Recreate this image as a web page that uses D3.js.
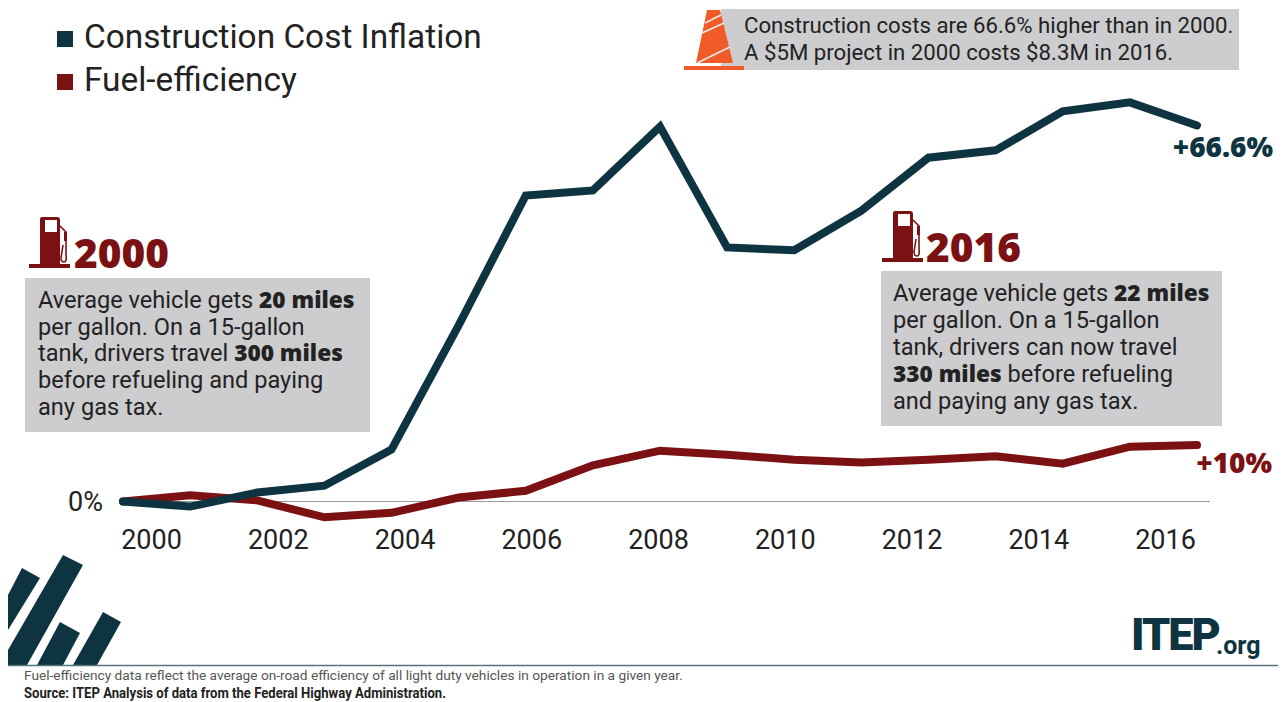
<!DOCTYPE html>
<html><head><meta charset="utf-8">
<script src="https://cdnjs.cloudflare.com/ajax/libs/d3/7.8.5/d3.min.js"></script>
<style>html,body{margin:0;padding:0;background:#fff;overflow:hidden}svg{display:block}text{font-family:Roboto,sans-serif}.hv{font-family:'Open Sans',sans-serif;font-weight:800}</style>
</head><body><svg id="c" width="1285" height="702"></svg>
<script>
const years=[2000,2001,2002,2003,2004,2005,2006,2007,2008,2009,2010,2011,2012,2013,2014,2015,2016];
const constructionCost=[0,-0.9,1.6,2.8,9.2,31.2,54.2,55.1,66.4,45,44.5,51.5,60.9,62.2,69.1,70.7,66.6];
const fuelEfficiency=[0,1.1,0.2,-2.8,-2.0,0.7,1.9,6.4,9.0,8.3,7.4,6.9,7.4,8.0,6.7,9.7,10];
const tickYears=[2000,2002,2004,2006,2008,2010,2012,2014,2016];
const legendLabels=["Construction Cost Inflation","Fuel-efficiency"];
const DARK="#0d3440",RED="#7b1113",GREY="#cdcdcf",INK="#222";
const svg=d3.select("#c");
const x=d3.scaleLinear().domain([2000,2016]).range([123,1197]);
const xTicks=d3.scaleLinear().domain([2000,2016]).range([151,1165]);
const y=d3.scaleLinear().domain([0,66.6]).range([501.5,125.5]);

svg.append("line").attr("x1",123).attr("x2",1210).attr("y1",501.5).attr("y2",501.5).attr("stroke","#9a9a9a").attr("stroke-width",1);
const ax=d3.axisBottom(xTicks).tickValues(tickYears).tickFormat(d3.format("d")).tickSize(0).tickPadding(0);
const axG=svg.append("g").attr("transform","translate(0,530)").call(ax);
axG.select(".domain").remove();
axG.selectAll("text").attr("fill",INK).attr("style","font-family:Roboto,sans-serif;font-size:27px");
svg.append("text").attr("x",103).attr("y",y(0)+9.5).attr("text-anchor","end").attr("fill",INK).attr("font-size",27).text("0%");

const line=d3.line().x((d,i)=>x(years[i])).y(d=>y(d));
[[fuelEfficiency,RED],[constructionCost,DARK]].forEach(([s,c])=>{
  svg.append("path").attr("d",line(s)).attr("fill","none").attr("stroke",c).attr("stroke-width",8).attr("stroke-linejoin","miter").attr("stroke-linecap","round");
});
svg.append("text").attr("class","hv").attr("x",1273).attr("y",157).attr("text-anchor","end").attr("fill",DARK).attr("font-size",28).text("+66.6%");
svg.append("text").attr("class","hv").attr("x",1272).attr("y",473).attr("text-anchor","end").attr("fill",RED).attr("font-size",28).text("+10%");

[[31,DARK,48],[74,RED,91]].forEach(([ty,c,by],i)=>{
  svg.append("rect").attr("x",57).attr("y",ty).attr("width",16).attr("height",16).attr("fill",c);
  svg.append("text").attr("x",84).attr("y",by).attr("fill",INK).attr("font-size",33.4).text(legendLabels[i]);
});

function box(bx,by,w,h,tx,baseY,step,size,lines){
  svg.append("rect").attr("x",bx).attr("y",by).attr("width",w).attr("height",h).attr("fill",GREY);
  const t=svg.append("text").attr("fill",INK).attr("font-size",size);
  lines.forEach((l,i)=>{
    l.forEach((seg,j)=>{
      const s=t.append("tspan").text(seg[0]);
      if(seg[1]) s.attr("class","hv").attr("font-size",size*.96);
      if(j===0) s.attr("x",tx).attr("y",baseY+i*step);
    });
  });
}
box(721,9,518,61,744,33,27,22.2,[[["Construction costs are 66.6% higher than in 2000."]],[["A $5M project in 2000 costs $8.3M in 2016."]]]);
box(25,278,345,154,38,308,26.7,23.6,[
 [["Average vehicle gets "],["20 miles",1]],
 [["per gallon. On a 15-gallon"]],
 [["tank, drivers travel "],["300 miles",1]],
 [["before refueling and paying"]],
 [["any gas tax."]]]);
box(881,271,341,155,893,301,27,23.6,[
 [["Average vehicle gets "],["22 miles",1]],
 [["per gallon. On a 15-gallon"]],
 [["tank, drivers can now travel"]],
 [["330 miles",1],[" before refueling"]],
 [["and paying any gas tax."]]]);

function pump(px,py){
  const g=svg.append("g").attr("transform",`translate(${px},${py})`).attr("fill",RED);
  g.append("path").attr("fill-rule","evenodd").attr("d","M13 0H28Q31 0 31 3V47H11V2Q11 0 13 0ZM16 3V15H28V3Z");
  g.append("rect").attr("x",0).attr("y",47).attr("width",41).attr("height",4);
  g.append("path").attr("fill","none").attr("stroke",RED).attr("stroke-width",1.6).attr("d","M31 9L37 15V38Q38 45 35 45Q32 45 32 41L34 28");
  g.append("rect").attr("x",35).attr("y",15).attr("width",3).attr("height",9);
}
pump(29,217);pump(882,211);
svg.append("text").attr("class","hv").attr("x",74).attr("y",268).attr("fill",RED).attr("font-size",40.5).text("2000");
svg.append("text").attr("class","hv").attr("x",926).attr("y",262).attr("fill",RED).attr("font-size",40.5).text("2016");

const ORANGE="#f15a29";
svg.append("path").attr("fill",ORANGE).attr("d","M707 10H720L733 63H696Z");
svg.append("rect").attr("x",684).attr("y",66).attr("width",60).attr("height",4).attr("fill",ORANGE);
[[705,23,721,15],[702,33,724,23],[697,63,730,47]].forEach(d=>svg.append("line").attr("x1",d[0]).attr("y1",d[1]).attr("x2",d[2]).attr("y2",d[3]).attr("stroke","#e8e8e8").attr("stroke-width",1.8));

svg.append("g").attr("fill",DARK).selectAll("path").data([
 "M8 595L22 568L40 578L8 630Z",
 "M8 650L63 555L83 565L27 665H8Z",
 "M37 665L60 622L80 633L63 665Z",
 "M73 665L103 612L121 622L97 665Z"]).join("path").attr("d",d=>d);

svg.append("text").attr("x",1131).attr("y",650).attr("fill",DARK).attr("font-weight",900).attr("font-size",45).attr("letter-spacing","-2").text("ITEP");
svg.append("text").attr("x",1216).attr("y",654).attr("fill",DARK).attr("font-weight",700).attr("font-size",25).text(".org");

svg.append("line").attr("x1",8).attr("x2",1278).attr("y1",665.5).attr("y2",665.5).attr("stroke","#54747a").attr("stroke-width",1.5);
svg.append("text").attr("x",24).attr("y",680).attr("fill","#555").attr("font-size",13.7).text("Fuel-efficiency data reflect the average on-road efficiency of all light duty vehicles in operation in a given year.");
svg.append("text").attr("x",24).attr("y",698).attr("fill","#222").attr("font-size",14).attr("font-weight",700).attr("textLength",422).attr("lengthAdjust","spacingAndGlyphs").text("Source: ITEP Analysis of data from the Federal Highway Administration.");
</script></body></html>
